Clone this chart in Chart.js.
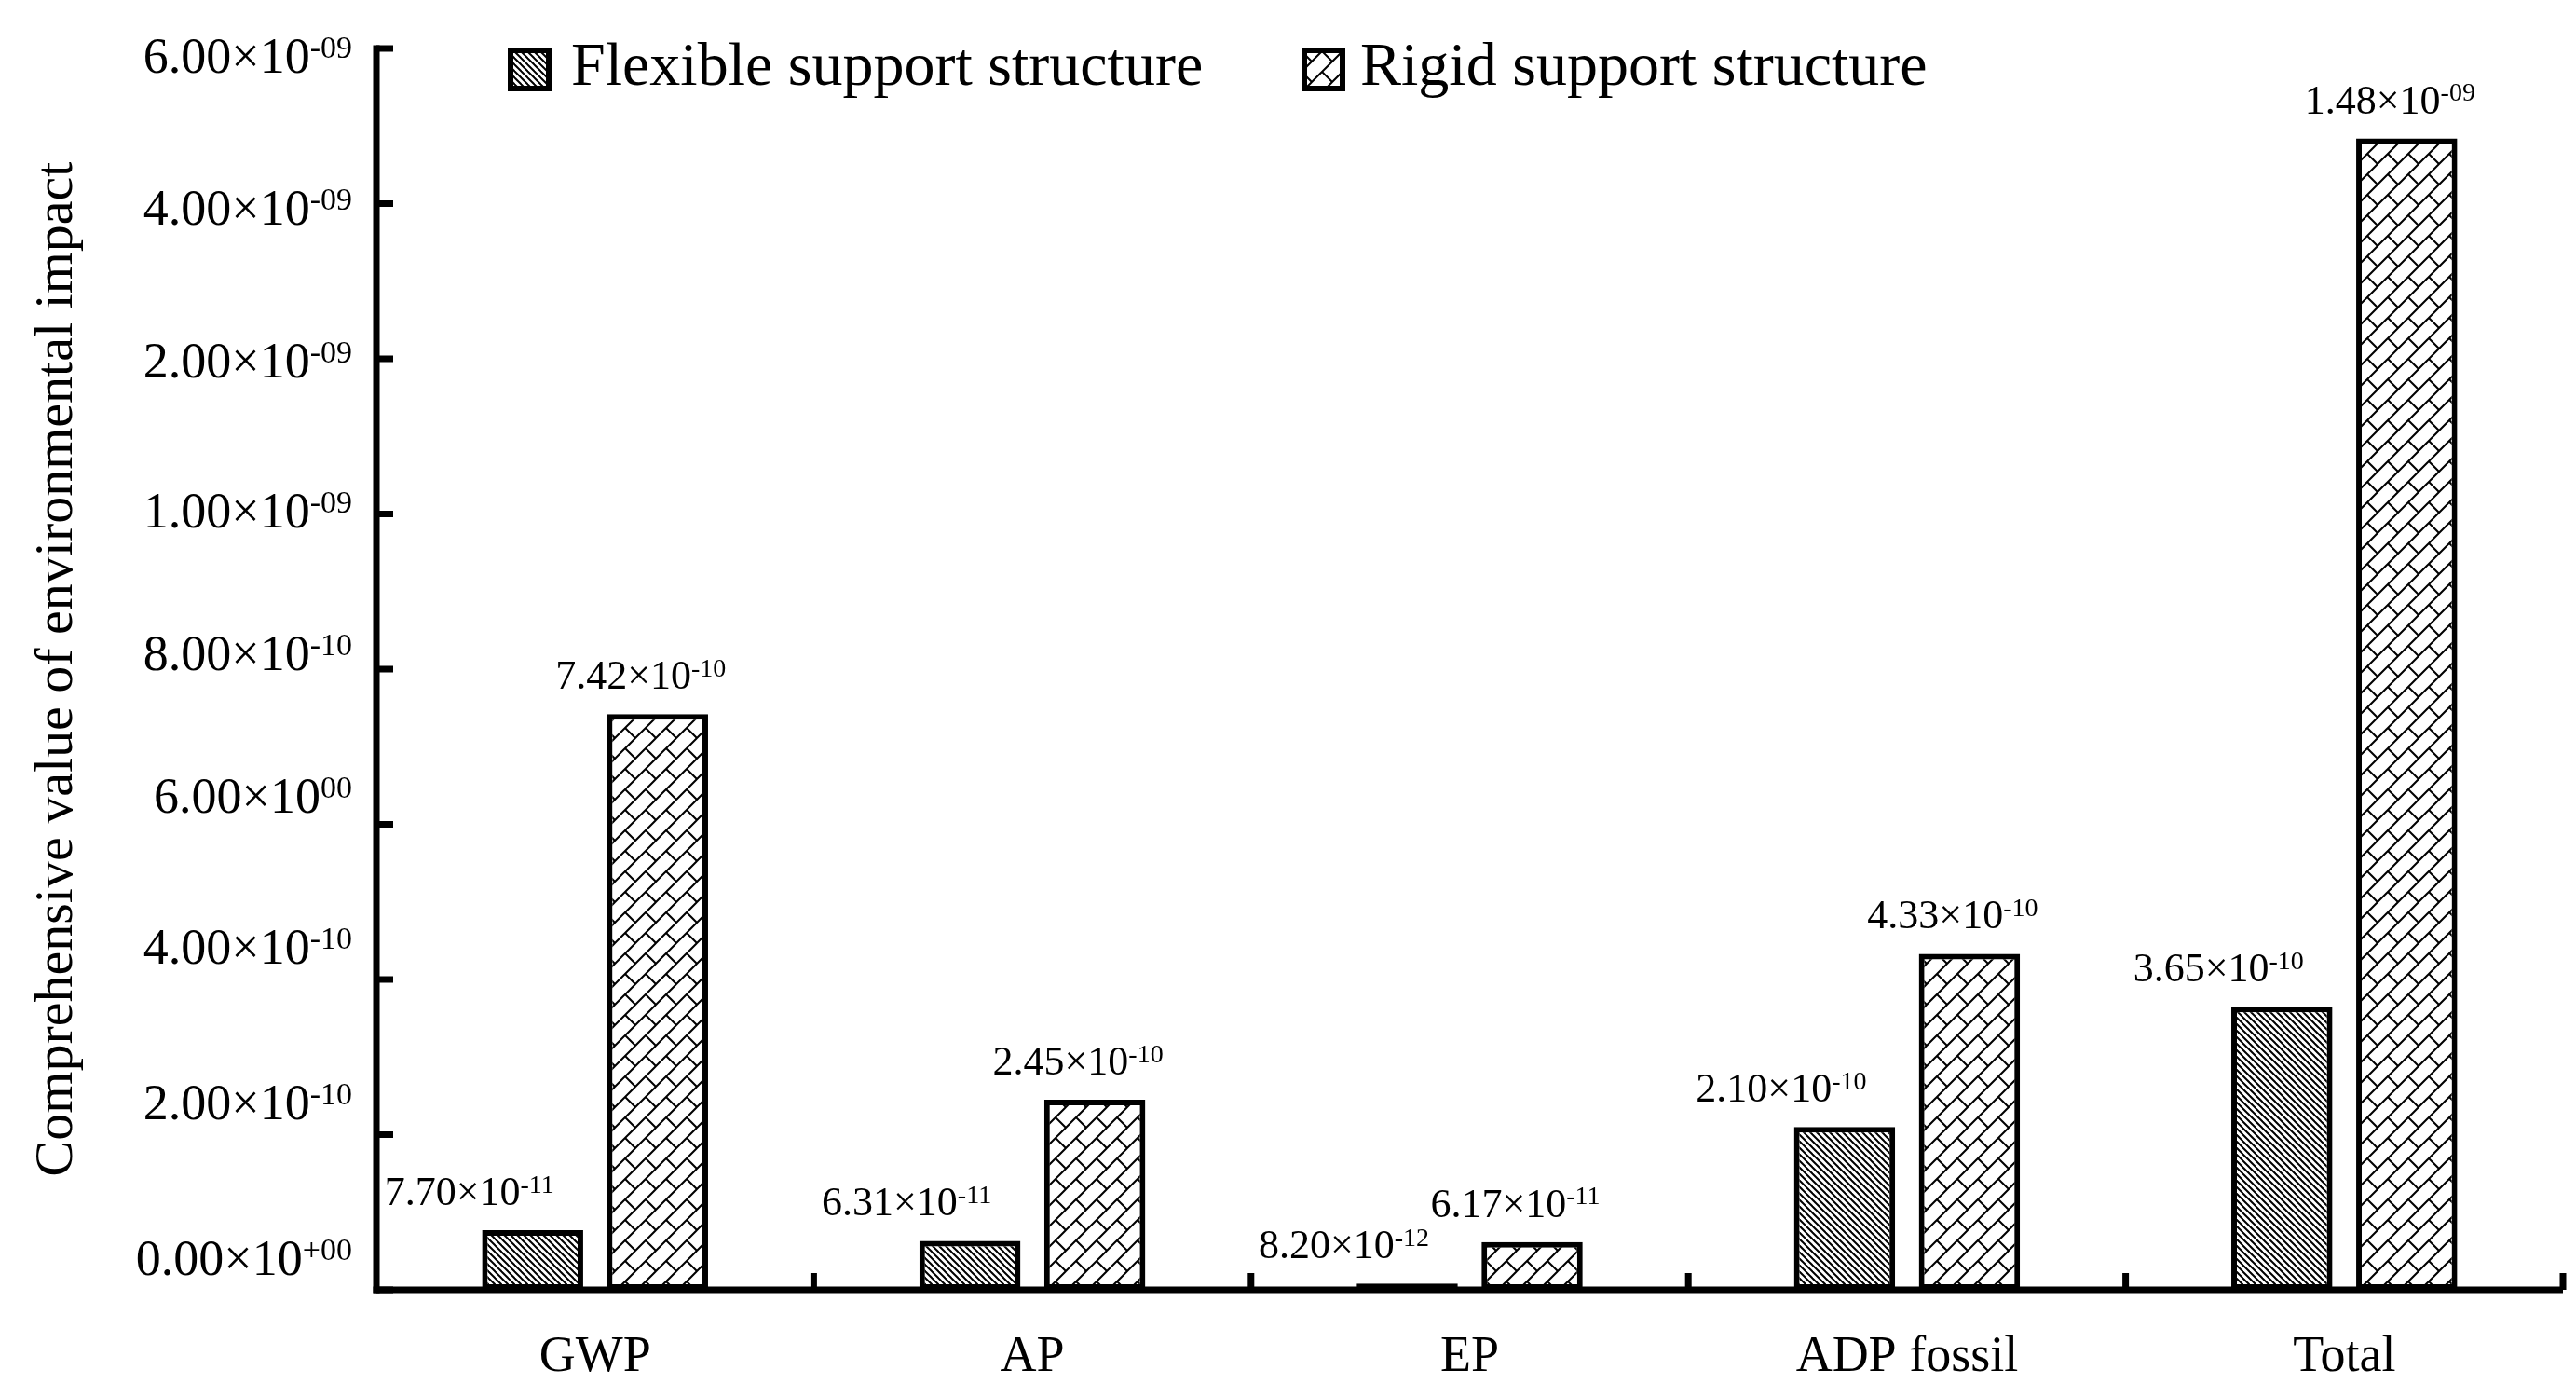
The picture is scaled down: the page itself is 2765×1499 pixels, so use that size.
<!DOCTYPE html>
<html>
<head>
<meta charset="utf-8">
<script src="https://cdn.jsdelivr.net/npm/chart.js@4.4.1/dist/chart.umd.min.js"></script>
<style>
  html, body { margin: 0; padding: 0; background: #fff; }
  #wrap { width: 2765px; height: 1499px; position: relative; }
</style>
</head>
<body>
<div id="wrap"><canvas id="myChart"></canvas></div>
<script>
// ---- data ----
const categories = ['GWP', 'AP', 'EP', 'ADP fossil', 'Total'];
const seriesNames = ['Flexible support structure', 'Rigid support structure'];
const flexibleValues = [7.70e-11, 6.31e-11, 8.20e-12, 2.10e-10, 3.65e-10];
// the last rigid bar is drawn at ~4.84e-9 on the axis although it is labelled 1.48e-9
const rigidValues = [7.42e-10, 2.45e-10, 6.17e-11, 4.33e-10, 4.84e-9];
const flexibleLabels = ['7.70×10^-11', '6.31×10^-11', '8.20×10^-12', '2.10×10^-10', '3.65×10^-10'];
const rigidLabels = ['7.42×10^-10', '2.45×10^-10', '6.17×10^-11', '4.33×10^-10', '1.48×10^-09'];
const yTickValues = [0, 2e-10, 4e-10, 6e-10, 8e-10, 1e-9, 2e-9, 4e-9, 6e-9];
const yTickLabels = ['0.00×10^+00', '2.00×10^-10', '4.00×10^-10', '6.00×10^00', '8.00×10^-10',
  '1.00×10^-09', '2.00×10^-09', '4.00×10^-09', '6.00×10^-09'];

const SERIF = '"Liberation Serif", "Times New Roman", serif';

// the y axis is broken: every tick interval gets the same height
function valueToSlot(v) {
  for (let i = 1; i < yTickValues.length; i++) {
    if (v <= yTickValues[i] || i === yTickValues.length - 1) {
      const a = yTickValues[i - 1], b = yTickValues[i];
      return i - 1 + (v - a) / (b - a);
    }
  }
  return 0;
}
function slotToValue(s) {
  const i = Math.max(0, Math.min(yTickValues.length - 2, Math.floor(s)));
  const a = yTickValues[i], b = yTickValues[i + 1];
  return a + (s - i) * (b - a);
}

class SegmentScale extends Chart.LinearScale {
  static id = 'segment';
  static defaults = {};
  buildTicks() {
    return yTickValues.map(v => ({ value: v }));
  }
  getPixelForValue(value) {
    return this.getPixelForDecimal(valueToSlot(value) / (yTickValues.length - 1));
  }
  getValueForPixel(pixel) {
    return slotToValue(this.getDecimalForPixel(pixel) * (yTickValues.length - 1));
  }
}
Chart.register(SegmentScale);

// hatch fills
function makePattern(size, draw) {
  const c = document.createElement('canvas');
  c.width = size; c.height = size;
  const g = c.getContext('2d');
  g.fillStyle = '#fff';
  g.fillRect(0, 0, size, size);
  g.strokeStyle = '#000';
  g.lineWidth = 2;
  draw(g, size);
  return g.createPattern(c, 'repeat');
}
// dense "\\\" lines
const flexibleFill = makePattern(7, (g, s) => {
  for (const o of [-s, 0, s]) {
    g.beginPath(); g.moveTo(o - 1, -1); g.lineTo(o + s + 1, s + 1); g.stroke();
  }
});
// diagonal brick
const rigidFill = makePattern(22, (g, s) => {
  for (const c of [0, s, 2 * s]) {
    g.beginPath(); g.moveTo(c + 1, -1); g.lineTo(c - s - 1, s + 1); g.stroke();
  }
  g.beginPath(); g.moveTo(s / 2, s / 2); g.lineTo(s + 1, s + 1); g.stroke();
});

// text like 7.42×10^-10 with a raised exponent
function drawSci(ctx, text, x, yMid, size, align) {
  const parts = text.split('^');
  const supSize = Math.round(size * 0.63);
  ctx.font = size + 'px ' + SERIF;
  const wb = ctx.measureText(parts[0]).width;
  ctx.font = supSize + 'px ' + SERIF;
  const we = ctx.measureText(parts[1]).width;
  let x0 = x;
  if (align === 'right') x0 = x - wb - we;
  if (align === 'center') x0 = x - (wb + we) / 2;
  const base = yMid + size * 0.34;
  ctx.textAlign = 'left';
  ctx.textBaseline = 'alphabetic';
  ctx.fillStyle = '#000';
  ctx.font = size + 'px ' + SERIF;
  ctx.fillText(parts[0], x0, base);
  ctx.font = supSize + 'px ' + SERIF;
  ctx.fillText(parts[1], x0 + wb, base - size * 0.3);
}

const decorations = {
  id: 'decorations',
  afterDatasetsDraw(chart) {
    const ctx = chart.ctx;
    const area = chart.chartArea;
    const x = chart.scales.x, y = chart.scales.y;
    ctx.save();
    ctx.fillStyle = '#000';

    // axes lines
    ctx.fillRect(area.left - 3.5, area.top - 3.5, 7, area.bottom - area.top + 7);
    ctx.fillRect(area.left - 3.5, area.bottom - 3.5, area.right - area.left + 3.5, 7);

    // y ticks, pointing into the plot
    yTickValues.forEach(v => {
      const py = y.getPixelForValue(v);
      ctx.fillRect(area.left, py - 3.5, 18, 7);
    });
    // x ticks between categories, pointing up
    for (let i = 1; i <= categories.length; i++) {
      const px = i < categories.length
        ? (x.getPixelForValue(i - 1) + x.getPixelForValue(i)) / 2
        : area.right;
      ctx.fillRect(px - 3.5, area.bottom - 18, 7, 18);
    }

    // y tick labels
    const labelShift = [-34, -35, -35, -31, -17, -4, 2, 4, 8];
    yTickValues.forEach((v, i) => {
      drawSci(ctx, yTickLabels[i], area.left - 26, y.getPixelForValue(v) + labelShift[i], 54, 'right');
    });

    // value labels over bars
    const labelSets = [flexibleLabels, rigidLabels];
    const dx = [-68, -18];
    chart.data.datasets.forEach((ds, d) => {
      chart.getDatasetMeta(d).data.forEach((bar, i) => {
        drawSci(ctx, labelSets[d][i], bar.x + dx[d], bar.y - 42, 44, 'center');
      });
    });

    // legend
    const items = [{ box: 545, text: 613 }, { box: 1397, text: 1460 }];
    chart.data.datasets.forEach((ds, d) => {
      ctx.fillStyle = ds.backgroundColor;
      ctx.fillRect(items[d].box, 51, 47, 47);
      ctx.lineWidth = 6;
      ctx.strokeStyle = '#000';
      ctx.strokeRect(items[d].box + 3, 54, 41, 41);
      ctx.fillStyle = '#000';
      ctx.font = '66px ' + SERIF;
      ctx.textAlign = 'left';
      ctx.textBaseline = 'middle';
      ctx.fillText(ds.label, items[d].text, 74);
    });
    ctx.restore();
  }
};

const ctx = document.getElementById('myChart');
new Chart(ctx, {
  type: 'bar',
  data: {
    labels: categories,
    datasets: [{
      label: seriesNames[0],
      data: flexibleValues,
      backgroundColor: flexibleFill,
      borderColor: '#000',
      borderWidth: 6,
      borderSkipped: false
    }, {
      label: seriesNames[1],
      data: rigidValues,
      backgroundColor: rigidFill,
      borderColor: '#000',
      borderWidth: 6,
      borderSkipped: false
    }]
  },
  options: {
    responsive: true,
    maintainAspectRatio: false,
    animation: false,
    events: [],
    categoryPercentage: 0.571,
    barPercentage: 0.81,
    layout: { padding: { top: 52, left: 10, right: 14, bottom: 0 } },
    plugins: {
      legend: { display: false },
      tooltip: { enabled: false }
    },
    scales: {
      x: {
        grid: { display: false, drawTicks: false },
        border: { display: false },
        ticks: {
          color: '#000',
          padding: 40,
          font: { family: SERIF, size: 54 }
        },
        afterFit: (scale) => { scale.height = 115; }
      },
      y: {
        type: 'segment',
        min: 0,
        max: 6e-9,
        grid: { display: false, drawTicks: false },
        border: { display: false },
        ticks: {
          display: false,
          callback: (v, i) => yTickLabels[i]
        },
        title: {
          display: true,
          text: 'Comprehensive value of environmental impact',
          color: '#000',
          padding: { top: 17, bottom: 0 },
          font: { family: SERIF, size: 58 }
        },
        afterFit: (scale) => { scale.width = 394; }
      }
    }
  },
  plugins: [decorations]
});
</script>
</body>
</html>
